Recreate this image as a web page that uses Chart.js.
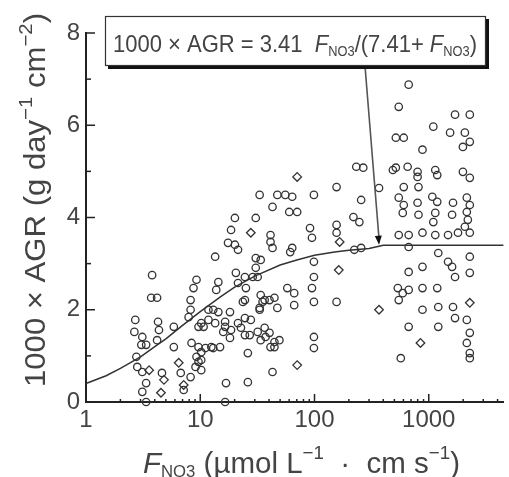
<!DOCTYPE html>
<html>
<head>
<meta charset="utf-8">
<script src="https://cdn.jsdelivr.net/npm/chart.js@4.4.1/dist/chart.umd.min.js"></script>
<style>
  html, body { margin: 0; padding: 0; background: #fff; }
  canvas { display: block; }
</style>
</head>
<body>
<canvas id="agrChart" width="509" height="477"></canvas>
<script>
// tick labels
var xTickValues = [1, 10, 100, 1000];
var yTickValues = [0, 2, 4, 6, 8];
var yMinorTicks = [1, 3, 5, 7];

// open circles (F_NO3, 1000 x AGR)
var circX = [3.79, 3.72, 4.19, 2.70, 2.65, 3.11, 3.36, 3.05, 4.27, 4.35, 4.19, 5.87, 5.87, 2.76, 2.81, 3.11, 4.62, 3.36, 3.11, 3.36,
  7.16, 6.75, 8.23, 9.09, 9.65, 8.73, 9.27, 8.23, 8.23, 7.91, 8.39, 9.65, 9.27, 10.2, 9.65, 10.7, 11.1, 12.5, 14.9, 10.2,
  11.8, 13.0, 14.4, 13.8, 14.4, 13.5, 17.5, 20.1, 21.4, 18.6, 20.5, 24.6, 25.1, 24.6, 16.8, 26.1, 16.5, 16.5, 18.6, 21.4,
  24.6, 27.7, 26.1, 33.1, 47.3, 55.5, 63.8, 42.9, 60.1, 70.5, 20.1, 30.6, 41.2, 41.2, 42.9, 63.8, 61.3, 30.6, 33.8, 30.6,
  28.8, 21.4, 23.6, 57.8, 66.4, 66.4, 33.8, 36.6, 40.4, 44.6, 47.3, 33.1, 18.2, 11.8, 13.5, 16.5, 15.9, 18.2, 22.7, 24.6,
  27.1, 31.8, 36.6, 40.4, 33.8, 44.6, 49.3, 13.0, 44.6, 10.2, 10.2, 42.9, 37.3, 41.2, 35.1, 33.1, 31.8,
  232, 267, 367, 485, 156, 98.8, 256, 219, 247, 91.3, 95.0, 156, 156, 223, 256, 98.8, 98.8, 95.0, 98.8, 156, 98.8, 98.8,
  667, 546, 1698, 2286, 1096, 1537, 2070, 2286, 1990, 515, 604, 881, 515, 653, 798, 798, 1140, 1186, 1990, 2286,
  604, 813, 546, 604, 798, 1074, 1186, 1140, 1630, 2153, 2286, 592, 813, 1096, 1600, 2153, 2198, 2070, 546, 667,
  881, 1140, 1475, 1802, 2286, 667, 1211, 2286, 667, 881, 1475, 1600, 1698, 2286, 536, 592, 667, 546, 881, 1186,
  881, 1211, 1630, 1698, 2153, 667, 1211, 2153, 2286, 2286, 2286, 569];
var circY = [2.75, 2.26, 2.26, 1.78, 1.52, 1.41, 1.24, 1.24, 1.74, 1.56, 1.34, 1.63, 1.19, 0.98, 0.76, 0.65, 0.63, 0.41, 0.22, 0.00,
  0.26, 0.63, 0.54, 0.76, 0.87, 2.47, 2.65, 2.21, 2.00, 1.84, 1.28, 1.19, 0.98, 1.08, 1.63, 1.63, 1.17, 1.19, 1.19, 1.71,
  2.00, 2.00, 1.95, 2.43, 2.60, 3.15, 3.45, 3.41, 3.30, 3.73, 2.80, 2.71, 2.47, 2.21, 0.41, 0.43, 0.00, 1.63, 1.56, 1.71,
  1.82, 1.78, 1.06, 4.49, 4.49, 4.49, 4.45, 4.23, 4.12, 4.12, 3.99, 3.99, 3.62, 3.47, 3.34, 3.34, 3.25, 3.12, 3.08, 2.91,
  2.71, 2.58, 2.17, 2.47, 2.36, 2.10, 2.32, 2.21, 2.21, 2.26, 2.04, 2.04, 1.95, 1.78, 1.71, 1.74, 1.52, 1.39, 1.61, 1.45,
  1.45, 1.52, 1.61, 1.50, 1.34, 1.30, 1.34, 1.17, 1.19, 0.91, 0.69, 0.65, 1.41, 1.19, 2.17, 2.00, 2.71,
  5.10, 5.08, 4.64, 5.03, 4.66, 4.49, 4.38, 4.01, 3.90, 3.77, 3.56, 3.84, 3.67, 3.30, 3.34, 3.04, 2.71, 2.47, 2.17, 2.17, 1.41, 1.17,
  6.88, 6.40, 6.23, 6.23, 5.97, 5.84, 5.84, 5.64, 5.53, 5.73, 5.73, 5.47, 5.08, 5.10, 4.99, 4.88, 5.03, 4.92, 4.99, 4.86,
  4.66, 4.66, 4.43, 4.27, 4.32, 4.45, 4.34, 4.10, 4.32, 4.43, 4.27, 4.10, 4.06, 3.90, 4.06, 4.12, 3.95, 3.80, 3.62, 3.62,
  3.67, 3.62, 3.62, 3.67, 3.67, 3.36, 3.23, 3.15, 2.82, 2.93, 3.04, 2.93, 2.71, 2.80, 2.47, 2.36, 2.43, 2.21, 2.47, 2.47,
  2.00, 2.06, 2.06, 1.82, 1.78, 1.63, 1.63, 1.28, 1.50, 1.06, 0.95, 0.95];

// open diamonds
var diaX = [70.5, 163, 166, 367, 846, 2286, 7.16, 6.48, 4.81, 3.57, 4.53, 70.5, 27.7];
var diaY = [4.88, 2.86, 3.47, 2.00, 1.28, 2.15, 0.37, 0.85, 0.48, 0.69, 0.20, 0.80, 3.67];

// fitted curve
var fitX = [1, 1.5, 2, 3, 4, 5, 7, 10, 15, 20, 30, 50, 70, 100, 150, 200, 300, 400, 4500];
var fitY = [0.40, 0.57, 0.73, 0.98, 1.20, 1.37, 1.66, 1.96, 2.28, 2.49, 2.73, 2.97, 3.08, 3.18, 3.25, 3.29, 3.33, 3.40, 3.40];

var arrowTarget = { x: 367, y: 3.41 };

var FONT = "'Liberation Sans', Arial, Helvetica, sans-serif";
var INK = '#444';

function pairs(xs, ys) {
  return xs.map(function (v, i) { return { x: v, y: ys[i] }; });
}

// draw a row of text pieces, squeezed to a target width
function drawRuns(ctx, runs, x, y, targetW) {
  var w = 0;
  runs.forEach(function (r) {
    ctx.font = (r.italic ? 'italic ' : '') + r.size + 'px ' + FONT;
    r.w = ctx.measureText(r.t).width;
    w += r.w;
  });
  var sx = targetW ? targetW / w : 1;
  ctx.save();
  ctx.translate(x, y);
  ctx.scale(sx, 1);
  ctx.textBaseline = 'alphabetic';
  ctx.textAlign = 'left';
  var cx = 0;
  runs.forEach(function (r) {
    ctx.font = (r.italic ? 'italic ' : '') + r.size + 'px ' + FONT;
    ctx.fillText(r.t, cx, r.dy || 0);
    cx += r.w;
  });
  ctx.restore();
}

function seg(ctx, x1, y1, x2, y2) {
  ctx.beginPath();
  ctx.moveTo(x1, y1);
  ctx.lineTo(x2, y2);
  ctx.stroke();
}

var decor = {
  id: 'decor',
  afterDraw: function (chart) {
    var ctx = chart.ctx;
    var xs = chart.scales.x, ys = chart.scales.y;
    ctx.save();

    // inward ticks
    ctx.strokeStyle = '#222';
    ctx.lineWidth = 1.5;
    yTickValues.forEach(function (v) {
      var py = ys.getPixelForValue(v);
      seg(ctx, xs.left, py, xs.left + 9, py);
    });
    yMinorTicks.forEach(function (v) {
      var py = ys.getPixelForValue(v);
      seg(ctx, xs.left, py, xs.left + 5, py);
    });
    xTickValues.forEach(function (d) {
      for (var k = 1; k <= 9; k++) {
        var v = d * k;
        if (v > xs.max) break;
        var px = xs.getPixelForValue(v);
        seg(ctx, px, ys.bottom, px, ys.bottom - (k === 1 ? 8 : 3));
      }
    });

    ctx.fillStyle = INK;

    // y title
    ctx.save();
    ctx.translate(45, 387);
    ctx.rotate(-Math.PI / 2);
    drawRuns(ctx, [
      { t: '1000 × AGR (g day', size: 29 },
      { t: '−1', size: 19, dy: -13 },
      { t: ' cm', size: 29 },
      { t: '−2', size: 19, dy: -13 },
      { t: ')', size: 29 }
    ], 0, 0, 374);
    ctx.restore();

    // x title
    drawRuns(ctx, [
      { t: 'F', size: 30, italic: true },
      { t: 'NO3', size: 17, dy: 4 },
      { t: ' (µmol L', size: 30 },
      { t: '−1', size: 19, dy: -14 },
      { t: '  ·  cm s', size: 30 },
      { t: '−1', size: 19, dy: -14 },
      { t: ')', size: 30 }
    ], 143, 473, 317);

    // arrow from the box to the plateau
    var tx = xs.getPixelForValue(arrowTarget.x);
    var ty = ys.getPixelForValue(arrowTarget.y);
    var sx0 = 365, sy0 = 66;
    ctx.strokeStyle = '#555';
    ctx.lineWidth = 1.6;
    seg(ctx, sx0, sy0, tx, ty - 6);
    var ang = Math.atan2(ty - sy0, tx - sx0);
    ctx.fillStyle = '#111';
    ctx.beginPath();
    ctx.moveTo(tx, ty);
    ctx.lineTo(tx - 9 * Math.cos(ang) + 3.5 * Math.sin(ang), ty - 9 * Math.sin(ang) - 3.5 * Math.cos(ang));
    ctx.lineTo(tx - 9 * Math.cos(ang) - 3.5 * Math.sin(ang), ty - 9 * Math.sin(ang) + 3.5 * Math.cos(ang));
    ctx.closePath();
    ctx.fill();

    // equation box with drop shadow
    ctx.fillStyle = '#111';
    ctx.fillRect(108, 19, 381, 50);
    ctx.fillStyle = '#fff';
    ctx.fillRect(105, 16, 381, 50);
    ctx.strokeStyle = '#333';
    ctx.lineWidth = 1.2;
    ctx.strokeRect(105.5, 16.5, 380, 49);

    ctx.fillStyle = INK;
    drawRuns(ctx, [
      { t: '1000 × AGR = 3.41  ', size: 24 },
      { t: 'F', size: 24, italic: true },
      { t: 'NO3', size: 14, dy: 4 },
      { t: '/(7.41+ ', size: 24 },
      { t: 'F', size: 24, italic: true },
      { t: 'NO3', size: 14, dy: 4 },
      { t: ')', size: 24 }
    ], 113, 52, 364);

    ctx.restore();
  }
};

new Chart(document.getElementById('agrChart'), {
  type: 'scatter',
  data: {
    datasets: [{
      type: 'line',
      data: pairs(fitX, fitY),
      borderColor: '#333',
      borderWidth: 1.5,
      pointRadius: 0,
      tension: 0,
      fill: false,
      clip: false
    }, {
      data: pairs(circX, circY),
      pointStyle: 'circle',
      pointRadius: 3.7,
      borderWidth: 1.3,
      borderColor: '#333',
      backgroundColor: 'rgba(0,0,0,0)',
      clip: false
    }, {
      data: pairs(diaX, diaY),
      pointStyle: 'rectRot',
      pointRadius: 4.3,
      borderWidth: 1.3,
      borderColor: '#333',
      backgroundColor: 'rgba(0,0,0,0)',
      clip: false
    }]
  },
  options: {
    responsive: false,
    animation: false,
    devicePixelRatio: 1,
    layout: { padding: { top: 33, right: 0, left: 0, bottom: 0 } },
    plugins: {
      legend: { display: false },
      tooltip: { enabled: false }
    },
    scales: {
      x: {
        type: 'logarithmic',
        min: 1,
        max: 4500,
        afterBuildTicks: function (s) {
          s.ticks = xTickValues.map(function (v) { return { value: v }; });
        },
        afterFit: function (s) { s.height = 75; },
        grid: { display: false, drawTicks: false },
        border: { display: true, color: '#222', width: 2 },
        ticks: {
          autoSkip: false,
          maxRotation: 0,
          padding: 4,
          color: INK,
          font: { size: 24, family: FONT },
          callback: function (v) { return String(v); }
        }
      },
      y: {
        min: 0,
        max: 8,
        afterBuildTicks: function (s) {
          s.ticks = yTickValues.map(function (v) { return { value: v }; });
        },
        afterFit: function (s) { s.width = 86; },
        grid: { display: false, drawTicks: false },
        border: { display: true, color: '#222', width: 2 },
        ticks: {
          padding: 6,
          color: INK,
          font: { size: 24, family: FONT }
        }
      }
    }
  },
  plugins: [decor]
});
</script>
</body>
</html>
